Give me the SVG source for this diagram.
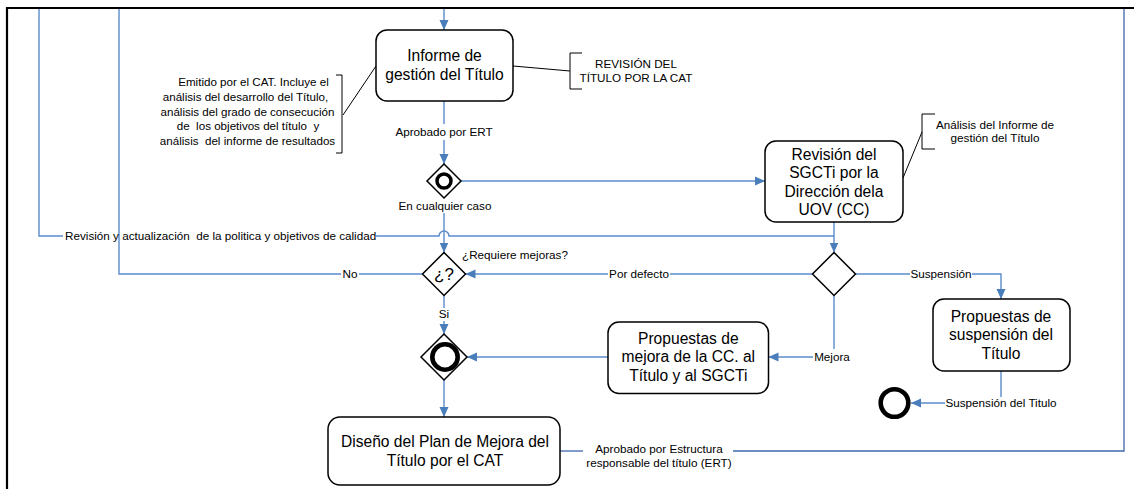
<svg xmlns="http://www.w3.org/2000/svg" width="1134" height="489" viewBox="0 0 1134 489">
<style>
text{font-family:"Liberation Sans",Arial,sans-serif;fill:#000}
.box{fill:#fff;stroke:#000;stroke-width:1.5}
.bt{font-size:15.6px;text-anchor:middle}
.lb{font-size:11.7px;text-anchor:middle}
.an{font-size:11.6px;text-anchor:middle}
.gw{fill:#fff;stroke:#000;stroke-width:1.5}
.ring{fill:#fff;stroke:#000}
.c{fill:none;stroke:#5B8BCB;stroke-width:1.4}
.c2{fill:none;stroke:#3F66AE;stroke-width:1.3}
.k{fill:none;stroke:#000;stroke-width:1}
</style>
<defs>
<marker id="ar" viewBox="0 0 10 10" refX="10" refY="5" markerWidth="10" markerHeight="10" markerUnits="userSpaceOnUse" orient="auto">
<path d="M0,0.5 L10,5 L0,9.5 z" fill="#4A7EBB"/>
</marker>
</defs>
<rect width="1134" height="489" fill="#fff"/>
<g id="frame">
<path d="M7,489 V8 H1134" fill="none" stroke="#000" stroke-width="2.2"/>
</g>
<g id="connectors">
<path class="c" d="M444,9 V30" marker-end="url(#ar)"/>
<path class="c" d="M444,101 V124"/>
<path class="c" d="M444,140 V164" marker-end="url(#ar)"/>
<path class="c" d="M461,181 H765" marker-end="url(#ar)"/>
<path class="c" d="M444,213 V252.5" marker-end="url(#ar)"/>
<path class="c" d="M834,222 V252.5" marker-end="url(#ar)"/>
<path class="c" d="M834,236 H449 A5,5 0 0 0 439,236 H376"/>
<path class="c" d="M63,236 H39 V9"/>
<path class="c" d="M422.5,274 H359"/>
<path class="c" d="M341,274 H119 V9"/>
<path class="c" d="M812.5,274 H670"/>
<path class="c" d="M608,274 H465.5" marker-end="url(#ar)"/>
<path class="c" d="M855.5,274 H910"/>
<path class="c" d="M972,274 H1001 V299" marker-end="url(#ar)"/>
<path class="c" d="M834,295.5 V349"/>
<path class="c" d="M813,357 H768.5" marker-end="url(#ar)"/>
<path class="c" d="M608,357 H467" marker-end="url(#ar)"/>
<path class="c" d="M444,295.5 V308"/>
<path class="c" d="M444,321 V334" marker-end="url(#ar)"/>
<path class="c" d="M444,380 V417" marker-end="url(#ar)"/>
<path class="c" d="M1001,371 V397"/>
<path class="c" d="M945,403 H911" marker-end="url(#ar)"/>
<path class="c2" d="M560,451 H583"/>
<path class="c2" d="M733,451 H1124 V9"/>
<path class="k" d="M513,66 L570,71"/>
<path class="k" d="M343,115 L376,66"/>
<path class="k" d="M903,178 L922,132"/>
<text class="lb" x="444" y="136">Aprobado por ERT</text>
<text class="lb" x="445" y="210">En cualquier caso</text>
<text class="lb" x="65" y="240" style="text-anchor:start" xml:space="preserve">Revisión y actualización  de la politica y objetivos de calidad</text>
<text class="lb" x="350" y="278">No</text>
<text class="lb" x="462" y="259" style="text-anchor:start">¿Requiere mejoras?</text>
<text class="lb" x="639" y="278">Por defecto</text>
<text class="lb" x="941" y="278">Suspensión</text>
<text class="lb" x="832" y="361">Mejora</text>
<text class="lb" x="444" y="318">Si</text>
<text class="lb" x="1001" y="407">Suspensión del Titulo</text>
<text class="lb" x="659" y="453">Aprobado por Estructura</text>
<text class="lb" x="659" y="467">responsable del título (ERT)</text>
</g>
<g id="informe">
<rect class="box" x="376" y="30" width="137" height="71" rx="11"/>
<text class="bt" x="444.5" y="61">Informe de</text>
<text class="bt" x="444.5" y="80">gestión del Título</text>
</g>
<g id="nota-revision-cat">
<path class="k" d="M582,53 H570 V89 H582"/>
<text class="lb" x="636" y="67.5">REVISIÓN DEL</text>
<text class="lb" x="636" y="81.5">TÍTULO POR LA CAT</text>
</g>
<g id="nota-emitido">
<path class="k" d="M336,75 H342 V153 H336"/>
<text class="an" x="253.5" y="86">Emitido por el CAT. Incluye el</text>
<text class="an" x="245.5" y="101">análisis del desarrollo del Título,</text>
<text class="an" x="247.5" y="115.5">análisis del grado de consecución</text>
<text class="an" x="248" y="130" xml:space="preserve">de  los objetivos del título  y</text>
<text class="an" x="247.5" y="144.5" xml:space="preserve">análisis  del informe de resultados</text>
</g>
<g id="gateway-1">
<polygon class="gw" points="444,164 461,181 444,198 427,181"/>
<circle class="ring" cx="444" cy="181" r="7" stroke-width="3.5"/>
</g>
<g id="revision-sgcti">
<rect class="box" x="765" y="141" width="138" height="81" rx="11"/>
<text class="bt" x="834" y="159.5">Revisión del</text>
<text class="bt" x="834" y="178">SGCTi por la</text>
<text class="bt" x="834" y="196.7">Dirección dela</text>
<text class="bt" x="834" y="215.4">UOV (CC)</text>
</g>
<g id="nota-analisis">
<path class="k" d="M935,114 H922 V149 H935"/>
<text class="lb" x="995" y="129">Análisis del Informe de</text>
<text class="lb" x="995" y="141.5">gestión del Título</text>
</g>
<g id="gateway-mejoras">
<polygon class="gw" points="444,252.5 465.5,274 444,295.5 422.5,274"/>
<text x="444" y="280" style="font-size:17px;text-anchor:middle">¿?</text>
</g>
<g id="gateway-2">
<polygon class="gw" points="834,252.5 855.5,274 834,295.5 812.5,274"/>
</g>
<g id="propuestas-suspension">
<rect class="box" x="933" y="299" width="137" height="72" rx="11"/>
<text class="bt" x="1001" y="321.5">Propuestas de</text>
<text class="bt" x="1001" y="340">suspensión del</text>
<text class="bt" x="1001" y="358.7">Título</text>
</g>
<g id="propuestas-mejora">
<rect class="box" x="608" y="322" width="160.5" height="71.5" rx="11"/>
<text class="bt" x="688.3" y="344">Propuestas de</text>
<text class="bt" x="688.3" y="362.3">mejora de la CC. al</text>
<text class="bt" x="688.3" y="380.6">Título y al SGCTi</text>
</g>
<g id="gateway-3">
<polygon class="gw" points="444,334 467,357 444,380 421,357"/>
<circle class="ring" cx="445" cy="357" r="12.7" stroke-width="4.6"/>
</g>
<g id="fin">
<circle class="ring" cx="894.5" cy="403" r="13.8" stroke-width="4.6"/>
</g>
<g id="diseno-plan">
<rect class="box" x="328" y="417" width="232" height="68" rx="12"/>
<text class="bt" x="445" y="447">Diseño del Plan de Mejora del</text>
<text class="bt" x="445" y="465.5">Título por el CAT</text>
</g>
</svg>
